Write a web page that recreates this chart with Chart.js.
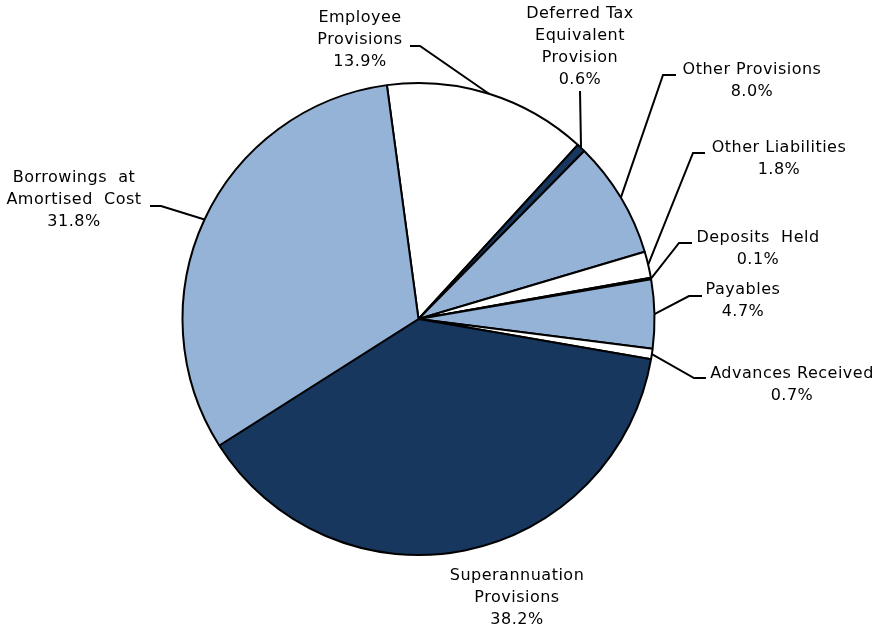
<!DOCTYPE html>
<html>
<head>
<meta charset="utf-8">
<script src="https://cdn.jsdelivr.net/npm/chart.js@4.4.1/dist/chart.umd.min.js"></script>
<style>
  html, body { margin: 0; padding: 0; background: #fff; }
  #wrap { width: 877px; height: 630px; position: relative; }
</style>
</head>
<body>
<div id="wrap"><canvas id="pie"></canvas></div>
<script>
// ======================================
// DATA
// ======================================
const categories = [
    "Employee Provisions",
    "Deferred Tax Equivalent Provision",
    "Other Provisions",
    "Other Liabilities",
    "Deposits Held",
    "Payables",
    "Advances Received",
    "Superannuation Provisions",
    "Borrowings at Amortised Cost"
];
const shares = [13.9, 0.6, 8.0, 1.8, 0.1, 4.7, 0.7, 38.2, 31.8];

// how each label is broken into lines
const labelLines = [
    ["Employee", "Provisions"],
    ["Deferred Tax", "Equivalent", "Provision"],
    ["Other Provisions"],
    ["Other Liabilities"],
    ["Deposits  Held"],
    ["Payables"],
    ["Advances Received"],
    ["Superannuation", "Provisions"],
    ["Borrowings  at", "Amortised  Cost"]
];

// ======================================
// STYLE / LAYOUT
// ======================================
const LIGHT = "#95b3d7";
const NAVY = "#17375e";
const WHITE = "#ffffff";
const sliceColors = [WHITE, NAVY, LIGHT, WHITE, NAVY, LIGHT, WHITE, NAVY, LIGHT];

// text centre (x, first line y) and leader: label end -> elbow -> slice edge
const labelLayout = [
    { x: 360, y: 18,  lead: [[410, 46], [420, 46]] },
    { x: 580, y: 14,  lead: [[580, 91]] },
    { x: 752, y: 70,  lead: [[676, 75], [663, 75]] },
    { x: 779, y: 148, lead: [[705, 153], [693, 153]] },
    { x: 758, y: 238, lead: [[692, 243], [679, 243]] },
    { x: 743, y: 290, lead: [[702, 296], [689, 296]] },
    { x: 792, y: 374, lead: [[706, 378], [694, 378]] },
    { x: 517, y: 576, lead: null },
    { x: 74,  y: 178, lead: [[150, 206], [161, 206]] }
];

const FONT = '16px "DejaVu Sans", Verdana, sans-serif';
const LINE_H = 22;

// ======================================
// LABEL PLUGIN
// ======================================
const outsideLabels = {
    id: "outsideLabels",
    afterDatasetsDraw(chart) {
        const ctx = chart.ctx;
        const arcs = chart.getDatasetMeta(0).data;
        ctx.save();
        ctx.font = FONT;
        ctx.letterSpacing = "0.5px";
        ctx.fillStyle = "#000";
        ctx.strokeStyle = "#000";
        ctx.lineWidth = 2;
        ctx.textAlign = "center";
        ctx.textBaseline = "middle";

        arcs.forEach((arc, i) => {
            const p = arc.getProps(["x", "y", "startAngle", "endAngle", "outerRadius"], true);
            const mid = (p.startAngle + p.endAngle) / 2;
            const ex = p.x + Math.cos(mid) * p.outerRadius;
            const ey = p.y + Math.sin(mid) * p.outerRadius;
            const lay = labelLayout[i];

            if (lay.lead) {
                ctx.beginPath();
                ctx.moveTo(lay.lead[0][0], lay.lead[0][1]);
                for (let k = 1; k < lay.lead.length; k++) {
                    ctx.lineTo(lay.lead[k][0], lay.lead[k][1]);
                }
                ctx.lineTo(ex, ey);
                ctx.stroke();
            }

            const lines = labelLines[i].concat([shares[i].toFixed(1) + "%"]);
            lines.forEach((t, k) => {
                ctx.fillText(t, lay.x, lay.y + k * LINE_H);
            });
        });
        ctx.restore();
    }
};

// ======================================
// CHART
// ======================================
const canvas = document.getElementById("pie");
canvas.width = 877;
canvas.height = 630;

new Chart(canvas.getContext("2d"), {
    type: "pie",
    data: {
        labels: categories,
        datasets: [{
            data: shares,
            backgroundColor: sliceColors,
            borderColor: "#000",
            borderWidth: 2
        }]
    },
    options: {
        responsive: false,
        animation: false,
        rotation: -7.7,
        layout: { padding: { left: 181, right: 221, top: 82, bottom: 74 } },
        plugins: {
            legend: { display: false },
            tooltip: { enabled: false }
        }
    },
    plugins: [outsideLabels]
});
</script>
</body>
</html>
